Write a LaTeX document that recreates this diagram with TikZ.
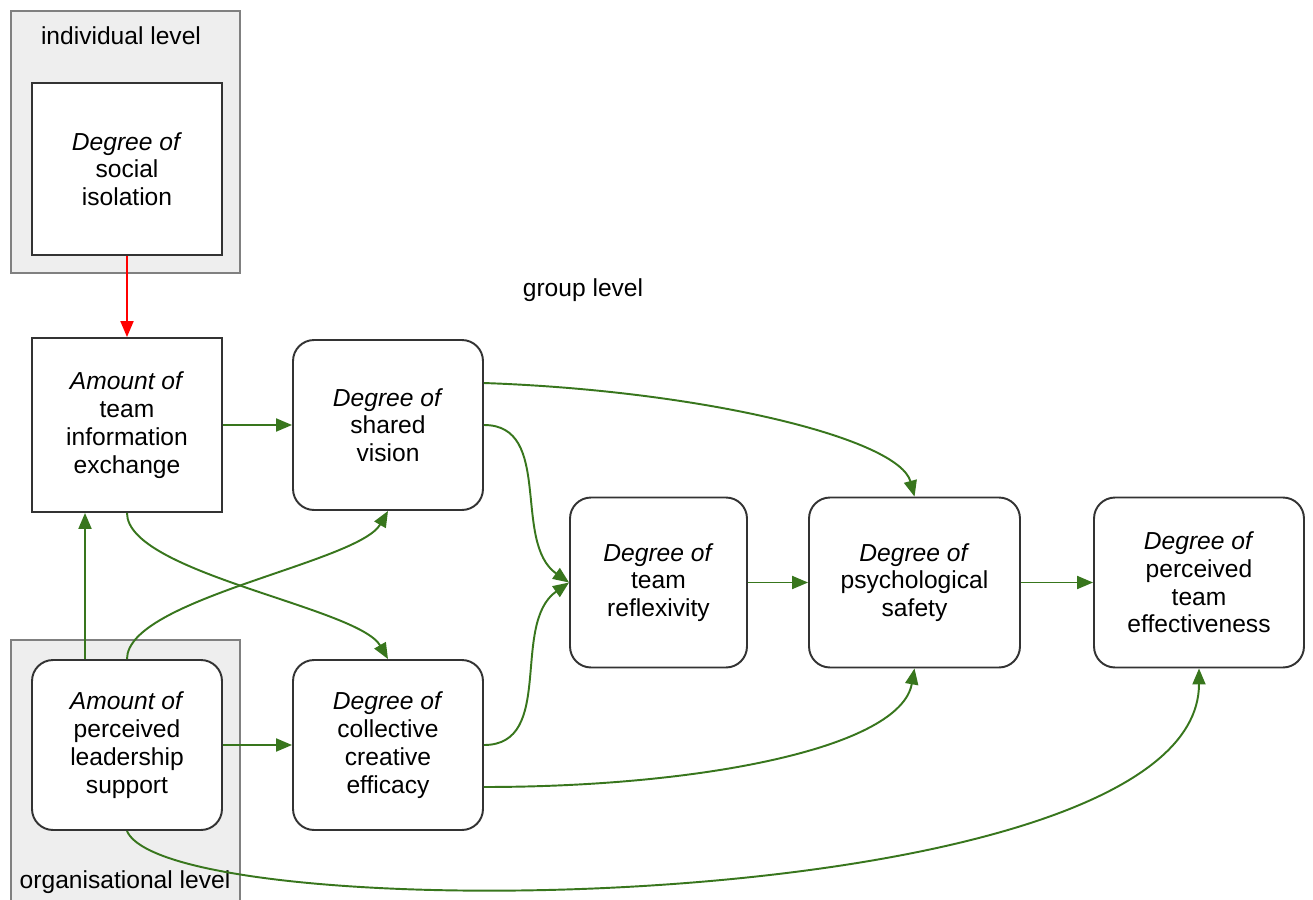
\documentclass[tikz,border=0pt]{standalone}
\usepackage{fontspec}
\setmainfont{Liberation Sans}
\usetikzlibrary{arrows.meta}
\definecolor{linkgreen}{HTML}{38761D}
\definecolor{framegray}{HTML}{EEEEEE}
\tikzset{
  txt/.style={font=\fontsize{14}{15.8}\selectfont},
  level/.style={draw=black!50,fill=framegray,line width=0.9pt},
  box/.style={txt,draw=black!80,fill=white,line width=1.1pt,align=center,minimum width=3.8cm,minimum height=3.4cm,inner sep=0pt},
  roundbox/.style={box,rounded corners=0.42cm},
  link/.style={draw=linkgreen,line width=1.1pt,-{Triangle[length=0.32cm,width=0.26cm]}},
  redlink/.style={draw=red,line width=1.1pt,-{Triangle[length=0.32cm,width=0.26cm]}}
}
\begin{document}
\begin{tikzpicture}[x=0.02cm,y=-0.02cm]
\useasboundingbox [fill=white] (0,0) rectangle (1313,900);
\draw [level] (11,11) rectangle (240,273);
\draw [level] (11,640) rectangle (240,910);
\node [txt] (indivlabel) at (121,36) {individual level};
\node [txt] (orglabel) at (125,882) {organisational level};
\node [txt] (grouplabel) at (583,290) {group level};
\node [box,minimum height=3.44cm] (isolation) at (127,169) {\textit{Degree of}\\social\\isolation};
\node [box,minimum height=3.48cm] (exchange) at (127,425) {\textit{Amount of}\\team\\information\\exchange};
\node [roundbox] (vision) at (388,425) {\textit{Degree of}\\shared\\vision};
\node [roundbox] (leadership) at (127,745) {\textit{Amount of}\\perceived\\leadership\\support};
\node [roundbox] (efficacy) at (388,745) {\textit{Degree of}\\collective\\creative\\efficacy};
\node [roundbox,minimum width=3.54cm] (reflexivity) at (658.5,582.5) {\textit{Degree of}\\team\\reflexivity};
\node [roundbox,minimum width=4.22cm] (safety) at (914.5,582.5) {\textit{Degree of}\\psychological\\safety};
\node [roundbox,minimum width=4.2cm] (effectiveness) at (1199,582.5) {\textit{Degree of}\\perceived\\team\\effectiveness};
\draw [redlink] (isolation) -- (exchange);
\draw [link] (exchange) -- (vision);
\draw [link] (leadership) -- (efficacy);
\draw [link] (reflexivity) -- (safety);
\draw [link] (safety) -- (effectiveness);
\draw [link] ([xshift=-0.84cm]leadership.north) -- ([xshift=-0.84cm]exchange.south);
\draw [link] (leadership.north) to [out=90,in=-120,out distance=1.2cm,in distance=1.2cm] (vision.south);
\draw [link] (exchange.south) to [out=-90,in=120,out distance=1.2cm,in distance=1.2cm] (efficacy.north);
\draw [link] (vision.east) to [out=0,in=145] (reflexivity.west);
\draw [link] (efficacy.east) to [out=0,in=215] (reflexivity.west);
\draw [link] ([yshift=0.84cm]vision.east) to [out=-2,in=105,out distance=4.4cm,in distance=1.2cm] (safety.north);
\draw [link] ([yshift=-0.84cm]efficacy.east) to [out=0,in=-100,out distance=4.4cm,in distance=1.6cm] (safety.south);
\draw [link] (leadership.south) to [out=-67,in=-90,out distance=2.17cm,in distance=5.04cm] (effectiveness.south);
\end{tikzpicture}
\end{document}
